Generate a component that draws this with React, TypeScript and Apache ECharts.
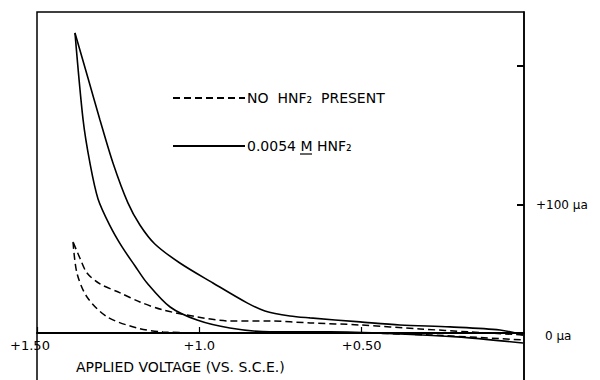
import React, { useEffect, useRef } from "react";
import * as echarts from "echarts";

// Applied voltage (V vs. S.C.E.) and current (μa)
// 0.0054 M HNF2 — anodic (upper) branch, low → high voltage (ends at the peak)
const solidOutV = [0.003, 0.074, 0.228, 0.382, 0.505, 0.659, 0.721, 0.798, 0.853, 0.958, 1.06, 1.137, 1.183, 1.22, 1.266, 1.306, 1.343, 1.383];
const solidOutI = [-1.6, 2.3, 4.7, 6.2, 8.6, 11.7, 13.2, 17.1, 23.4, 38.9, 54.5, 69.3, 84.1, 101.3, 132.4, 165.9, 198.6, 233.7];
// 0.0054 M HNF2 — return (lower) branch, from the peak, high → low voltage
const solidInV = [1.358, 1.337, 1.312, 1.275, 1.238, 1.198, 1.161, 1.09, 1.007, 0.906, 0.782, 0.598, 0.382, 0.206, 0.003];
const solidInI = [165.9, 132.4, 104.4, 83.4, 67.0, 52.2, 38.9, 20.2, 10.1, 3.9, 0.8, 0.8, -0.8, -3.1, -7.8];
// No HNF2 present — upper branch (ends at the peak)
const dashOutV = [0.003, 0.167, 0.32, 0.505, 0.659, 0.782, 0.906, 1.007, 1.112, 1.183, 1.244, 1.306, 1.346, 1.368, 1.389];
const dashOutI = [-1.6, 0.8, 3.1, 6.2, 7.8, 9.3, 9.3, 12.5, 17.9, 24.1, 31.2, 38.2, 46.7, 58.4, 70.9];
// No HNF2 present — lower branch, from the peak
const dashInV = [1.377, 1.346, 1.284, 1.192, 1.112, 0.936, 0.536, 0.29, 0.003];
const dashInI = [46.7, 28.0, 12.5, 3.9, 0.8, 0.0, 0.0, -1.6, -5.5];

const xTicks = [0.5, 1.0, 1.5];
const xTickLabels = ["+0.50", "+1.0", "+1.50"];
const yTicks = [0, 100, 208];
const yLabelValues = [0, 100];

const seriesDash = "NO  HNF₂  PRESENT";
const seriesSolid = "0.0054 M HNF₂";

const FONT = "DejaVu Sans";

function pairs(v: number[], i: number[]) {
  return v.map((x, k) => [x, i[k]]);
}
function withPeak(vOut: number[], iOut: number[], v: number[], i: number[]) {
  const n = vOut.length - 1;
  return [[vOut[n], iOut[n]], ...pairs(v, i)];
}

export default function App() {
  const ref = useRef<HTMLDivElement>(null);
  useEffect(() => {
    if (!ref.current) return;
    const chart = echarts.init(ref.current, null, { renderer: "svg" });
    const dashStyle = { color: "#000", width: 1.5, type: [7, 4] };
    const solidStyle = { color: "#000", width: 1.6 };
    const base = { type: "line", showSymbol: false, symbol: "none", smooth: 0.3, itemStyle: { color: "#000" } };
    chart.setOption({
      animation: false,
      backgroundColor: "#fff",
      textStyle: { fontFamily: FONT, color: "#000" },
      grid: {
        left: 37,
        right: 76,
        top: 12,
        bottom: -3,
        containLabel: false,
        outerBoundsMode: "none",
        show: true,
        borderColor: "#000",
        borderWidth: 1.5,
      },
      legend: {
        orient: "vertical",
        left: 172,
        top: 91,
        padding: 0,
        itemWidth: 72,
        itemHeight: 14,
        itemGap: 34,
        data: [seriesDash, seriesSolid],
        itemStyle: { opacity: 0 },
        lineStyle: { opacity: 1 },
        textStyle: { fontFamily: FONT, fontSize: 14, color: "#000", padding: [0, 0, 0, -3] },
      },
      xAxis: {
        type: "value",
        min: 0,
        max: 1.5,
        inverse: true,
        offset: -50,
        axisLine: { show: true, onZero: false, lineStyle: { color: "#000", width: 2 } },
        axisTick: { show: true, inside: true, length: 6, customValues: xTicks, lineStyle: { color: "#000", width: 1.2 } },
        axisLabel: {
          customValues: xTicks,
          margin: 6,
          fontSize: 13,
          fontFamily: FONT,
          color: "#000",
          formatter: (v: number) => {
            const k = xTicks.findIndex((t) => Math.abs(t - v) < 1e-6);
            if (k < 0) return "";
            return v === 1.5 ? "{l|" + xTickLabels[k] + "}" : xTickLabels[k];
          },
          rich: { l: { fontSize: 13, fontFamily: FONT, color: "#000", padding: [0, 14, 0, 0] } },
        },
        splitLine: { show: false },
      },
      yAxis: {
        type: "value",
        position: "right",
        min: -39,
        max: 250,
        axisLine: { show: true, lineStyle: { color: "#000", width: 1.5 } },
        axisTick: { show: true, inside: true, length: 7, customValues: yTicks, lineStyle: { color: "#000", width: 2 } },
        axisLabel: {
          customValues: yLabelValues,
          margin: 12,
          fontSize: 12,
          fontFamily: FONT,
          color: "#000",
          formatter: (v: number) => (v === 0 ? "{z|0 μa}" : "+" + v + " μa"),
          rich: { z: { fontSize: 12, fontFamily: FONT, color: "#000", padding: [7, 0, 0, 9] } },
        },
        splitLine: { show: false },
      },
      series: [
        { ...base, name: seriesDash, data: pairs(dashOutV, dashOutI), lineStyle: dashStyle },
        { ...base, name: seriesDash, data: withPeak(dashOutV, dashOutI, dashInV, dashInI), lineStyle: dashStyle },
        { ...base, name: seriesSolid, data: pairs(solidOutV, solidOutI), lineStyle: solidStyle },
        { ...base, name: seriesSolid, data: withPeak(solidOutV, solidOutI, solidInV, solidInI), lineStyle: solidStyle },
      ],
      graphic: [
        {
          type: "text",
          left: 76,
          top: 360,
          style: { text: "APPLIED VOLTAGE (VS. S.C.E.)", font: "14px DejaVu Sans", fill: "#000" },
        },
        {
          type: "line",
          shape: { x1: 300, y1: 154, x2: 312, y2: 154 },
          style: { stroke: "#000", lineWidth: 1.2 },
        },
      ],
    });
    return () => chart.dispose();
  }, []);
  return <div ref={ref} style={{ position: "absolute", left: 0, top: 0, width: 600, height: 380, background: "#fff" }} />;
}
